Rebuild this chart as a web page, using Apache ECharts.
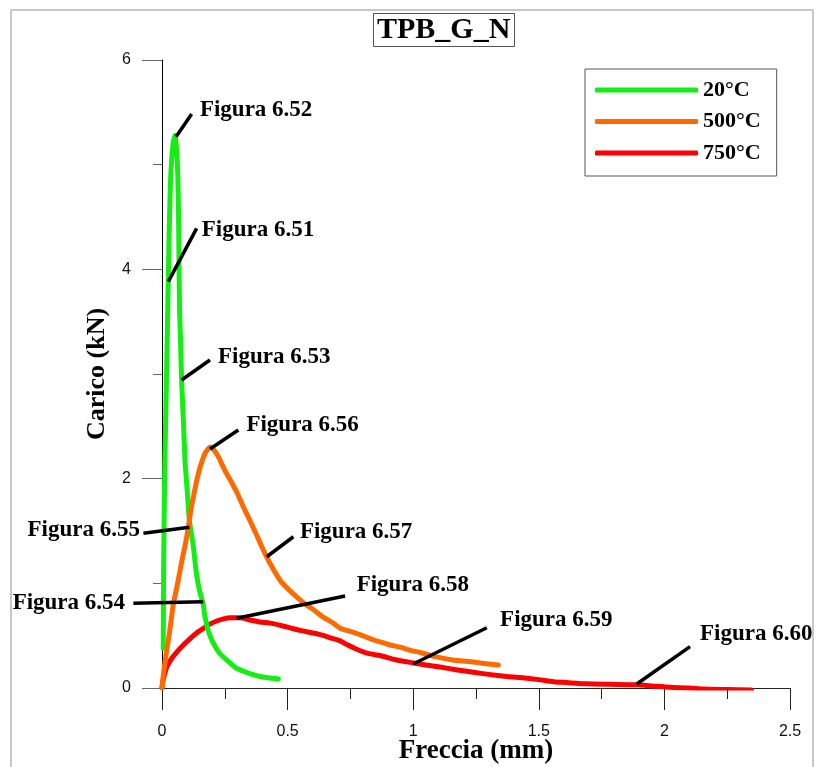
<!DOCTYPE html>
<html>
<head>
<meta charset="utf-8">
<title>TPB_G_N</title>
<script src="https://cdn.jsdelivr.net/npm/echarts@6/dist/echarts.min.js"></script>
<style>
  html, body { margin: 0; padding: 0; background: #fff; }
  #chart { width: 816px; height: 767px; }
</style>
</head>
<body>
<div id="chart"></div>
<script>
// Load–deflection curves (Freccia in mm, Carico in kN)
const seriesNames = ['20°C', '500°C', '750°C'];

const curve20 = [
  [0.005, 0.38], [0.006, 1.0], [0.008, 1.5], [0.011, 2.1], [0.015, 2.6], [0.019, 3.1],
  [0.022, 3.5], [0.025, 3.9], [0.029, 4.4], [0.035, 4.9], [0.044, 5.2], [0.052, 5.28],
  [0.058, 5.15], [0.063, 4.9], [0.066, 4.5], [0.068, 4.0], [0.07, 3.6], [0.074, 3.3],
  [0.078, 2.94], [0.085, 2.56], [0.092, 2.15], [0.1, 1.9], [0.107, 1.65], [0.115, 1.5],
  [0.125, 1.35], [0.135, 1.13], [0.145, 0.98], [0.155, 0.88], [0.164, 0.8], [0.171, 0.68],
  [0.185, 0.54], [0.204, 0.43], [0.23, 0.33], [0.257, 0.27], [0.29, 0.2], [0.324, 0.16],
  [0.36, 0.13], [0.39, 0.11], [0.43, 0.095], [0.463, 0.086]
];

const curve500 = [
  [0, 0], [0.005, 0.12], [0.015, 0.3], [0.025, 0.45], [0.035, 0.62], [0.045, 0.8],
  [0.058, 0.95], [0.07, 1.1], [0.082, 1.25], [0.095, 1.4], [0.105, 1.54], [0.115, 1.7],
  [0.127, 1.85], [0.14, 2.0], [0.153, 2.12], [0.171, 2.24], [0.191, 2.3], [0.205, 2.28],
  [0.224, 2.21], [0.25, 2.08], [0.271, 1.99], [0.3, 1.86], [0.324, 1.73], [0.35, 1.6],
  [0.377, 1.46], [0.403, 1.32], [0.437, 1.16], [0.47, 1.03], [0.5, 0.95], [0.536, 0.87],
  [0.57, 0.8], [0.602, 0.75], [0.64, 0.68], [0.682, 0.62], [0.709, 0.57], [0.75, 0.54],
  [0.788, 0.51], [0.83, 0.47], [0.868, 0.44], [0.91, 0.41], [0.948, 0.39], [0.99, 0.36],
  [1.027, 0.34], [1.07, 0.31], [1.107, 0.29], [1.15, 0.27], [1.186, 0.26], [1.23, 0.25],
  [1.266, 0.24], [1.3, 0.23], [1.339, 0.22]
];

const curve750 = [
  [0, 0.01], [0.005, 0.08], [0.01, 0.13], [0.019, 0.2], [0.035, 0.27], [0.058, 0.34],
  [0.085, 0.41], [0.111, 0.47], [0.14, 0.53], [0.165, 0.57], [0.19, 0.61], [0.218, 0.64],
  [0.245, 0.66], [0.271, 0.67], [0.31, 0.67], [0.35, 0.65], [0.39, 0.63], [0.43, 0.62],
  [0.47, 0.6], [0.51, 0.575], [0.55, 0.55], [0.59, 0.53], [0.63, 0.51], [0.67, 0.48],
  [0.709, 0.45], [0.74, 0.41], [0.775, 0.37], [0.82, 0.33], [0.868, 0.31], [0.93, 0.27],
  [1.0, 0.24], [1.05, 0.22], [1.107, 0.2], [1.17, 0.175], [1.24, 0.15], [1.3, 0.13],
  [1.372, 0.11], [1.425, 0.1], [1.5, 0.08], [1.558, 0.06], [1.62, 0.05], [1.69, 0.04],
  [1.78, 0.035], [1.89, 0.03], [1.95, 0.02], [2.022, 0.007], [2.1, 0.0], [2.155, -0.01],
  [2.25, -0.015], [2.347, -0.02]
];

// Figure call-outs: text, point on curve, end of leader, text anchor (all in axis units)
const noteTexts = ['Figura 6.52', 'Figura 6.51', 'Figura 6.53', 'Figura 6.56', 'Figura 6.57',
                   'Figura 6.58', 'Figura 6.59', 'Figura 6.60', 'Figura 6.55', 'Figura 6.54'];
const noteFrom = [[0.056, 5.267], [0.025, 3.882], [0.078, 2.943], [0.191, 2.283], [0.417, 1.254],
                  [0.297, 0.666], [1.0, 0.229], [1.89, 0.038], [0.109, 1.535], [0.164, 0.824]];
const noteTo = [[0.118, 5.484], [0.138, 4.392], [0.191, 3.134], [0.304, 2.465], [0.523, 1.445],
                [0.729, 0.879], [1.293, 0.576], [2.102, 0.395], [-0.074, 1.478], [-0.114, 0.809]];
const noteAt = [[0.151, 5.522], [0.158, 4.376], [0.223, 3.162], [0.336, 2.513], [0.549, 1.493],
                [0.775, 0.984], [1.346, 0.65], [2.142, 0.516], [-0.088, 1.51], [-0.147, 0.812]];

// Axis ranges and ticks
const xMin = 0, xMax = 2.5, xStep = 0.5;
const yMin = 0, yMax = 6, yStep = 2;

const serifFamily = "'Liberation Serif', 'Times New Roman', serif";
const serifBold = { fontFamily: serifFamily, fontWeight: 'bold', color: '#000' };
const tickFont = "'Liberation Sans Narrow', 'Liberation Sans', Arial, sans-serif";

const chart = echarts.init(document.getElementById('chart'), null, { renderer: 'canvas' });

const curveColors = ['#14ee14', '#ff6a00', '#ff0000'];
const curveData = [curve20, curve500, curve750];
const curveZ = [3, 4, 2];

const series = curveData.map((d, i) => ({
  name: seriesNames[i],
  type: 'line',
  data: d,
  symbol: 'none',
  smooth: 0.2,
  z: curveZ[i],
  color: curveColors[i],
  lineStyle: { width: 5, color: curveColors[i], cap: 'round', join: 'round' },
  silent: true,
  animation: false
}));

// Leader lines and call-out texts, placed through the axis scales
series.push({
  type: 'custom',
  z: 5,
  silent: true,
  animation: false,
  clip: false,
  data: noteTexts.map((t, i) => [noteFrom[i][0], noteFrom[i][1], noteTo[i][0], noteTo[i][1],
                                 noteAt[i][0], noteAt[i][1], i]),
  encode: { x: [0, 2, 4], y: [1, 3, 5] },
  renderItem: function (params, api) {
    const i = api.value(6);
    const p1 = api.coord([api.value(0), api.value(1)]);
    const p2 = api.coord([api.value(2), api.value(3)]);
    const pt = api.coord([api.value(4), api.value(5)]);
    const leftSide = api.value(4) < 0;
    return {
      type: 'group',
      children: [{
        type: 'line',
        shape: { x1: p1[0], y1: p1[1], x2: p2[0], y2: p2[1] },
        style: { stroke: '#000', lineWidth: 3.5, lineCap: 'butt' }
      }, {
        type: 'text',
        x: pt[0],
        y: pt[1],
        style: {
          text: noteTexts[i],
          fill: '#000',
          font: 'bold 23px ' + serifFamily,
          align: leftSide ? 'right' : 'left',
          verticalAlign: 'middle'
        }
      }]
    };
  }
});

chart.setOption({
  animation: false,
  backgroundColor: '#fff',
  title: {
    text: 'TPB_G_N',
    left: 373,
    top: 13,
    padding: [2, 4, 2, 4],
    borderColor: '#555',
    borderWidth: 1,
    textStyle: { fontSize: 30, ...serifBold }
  },
  legend: {
    data: seriesNames,
    orient: 'vertical',
    left: 585,
    top: 69,
    icon: 'roundRect',
    itemWidth: 103,
    itemHeight: 5,
    itemGap: 9.5,
    padding: [10, 16, 12, 10],
    backgroundColor: '#fff',
    borderColor: '#555',
    borderWidth: 1,
    selectedMode: false,
    textStyle: { fontSize: 22, lineHeight: 22, ...serifBold }
  },
  graphic: [{
    type: 'rect',
    shape: { x: 11, y: 10, width: 802, height: 780 },
    style: { fill: 'none', stroke: '#c8c8c8', lineWidth: 2 },
    silent: true,
    z: -1
  }],
  grid: { left: 162, top: 60, right: 26, bottom: 79, containLabel: false, outerBoundsMode: 'none' },
  xAxis: {
    type: 'value',
    min: xMin, max: xMax, interval: xStep,
    name: 'Freccia (mm)',
    nameLocation: 'middle',
    nameGap: 50,
    nameMoveOverlap: false,
    nameTextStyle: { fontSize: 27, ...serifBold },
    axisLine: { onZero: false, lineStyle: { color: '#222', width: 1 } },
    axisTick: { show: true, inside: false, length: 22, lineStyle: { color: '#222' } },
    minorTick: { show: true, splitNumber: 2, length: 11, lineStyle: { color: '#222' } },
    splitLine: { show: false },
    axisLabel: { margin: 36, fontSize: 16, color: '#111', fontFamily: tickFont }
  },
  yAxis: {
    type: 'value',
    min: yMin, max: yMax, interval: yStep,
    name: 'Carico (kN)',
    nameLocation: 'middle',
    nameGap: 52,
    nameMoveOverlap: false,
    nameTextStyle: { fontSize: 26, ...serifBold },
    axisLine: { show: true, onZero: false, lineStyle: { color: '#000', width: 1 } },
    axisTick: { show: true, inside: false, length: 20, lineStyle: { color: '#666' } },
    minorTick: { show: true, splitNumber: 2, length: 9, lineStyle: { color: '#666' } },
    splitLine: { show: false },
    axisLabel: { margin: 31, fontSize: 16, color: '#111', fontFamily: tickFont }
  },
  series: series
});
</script>
</body>
</html>
